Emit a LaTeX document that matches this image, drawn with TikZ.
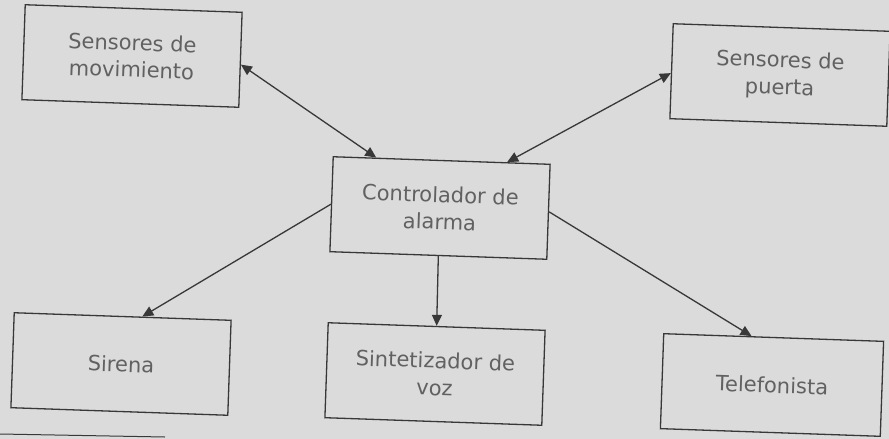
\documentclass[tikz,border=0pt]{standalone}
\usepackage{fontspec}
\setmainfont{DejaVu Sans}
\usetikzlibrary{arrows.meta,calc}
\definecolor{bgc}{gray}{0.86}
\definecolor{linec}{gray}{0.22}
\definecolor{textc}{gray}{0.38}
\tikzset{
  blk/.style={draw=linec, line width=1.3pt, rotate=-2, minimum width=217pt, minimum height=95pt,
    inner sep=0pt, align=center, text=textc, font=\fontsize{21}{27}\selectfont},
  conn/.style={draw=linec, line width=1.3pt},
  tip/.style={-{Triangle[length=11pt,width=10pt]}},
  tips/.style={{Triangle[length=11pt,width=10pt]}-{Triangle[length=11pt,width=10pt]}}
}
\begin{document}
\begin{tikzpicture}[x=1pt,y=-1pt]
\fill[bgc] (0,0) rectangle (889,439);
\useasboundingbox (0,0) rectangle (889,439);
\node[blk] (m) at (132,56) {Sensores de\\movimiento};
\node[blk] (p) at (780,75) {Sensores de\\puerta};
\node[blk] (c) at (440,208) {Controlador de\\alarma};
\node[blk] (s) at (121,364) {Sirena};
\node[blk] (v) at (435,374) {Sintetizador de\\voz};
\node[blk, minimum width=220pt] (t) at (772,385) {Telefonista};
\draw[conn,tips] ($(m.north east)!0.55!(m.south east)$) -- ($(c.north west)!0.2!(c.north east)$);
\draw[conn,tips] ($(p.north west)!0.52!(p.south west)$) -- ($(c.north west)!0.8!(c.north east)$);
\draw[conn,tip] (c.west) -- ($(s.north west)!0.59!(s.north east)$);
\draw[conn,tip] (c.south) -- (v.north);
\draw[conn,tip] (c.east) -- ($(t.north west)!0.4!(t.north east)$);
\coordinate (a1) at (0,434);
\coordinate (a2) at (165,437);
\draw[linec, line width=1pt] (a1) -- (a2);
\end{tikzpicture}
\end{document}
